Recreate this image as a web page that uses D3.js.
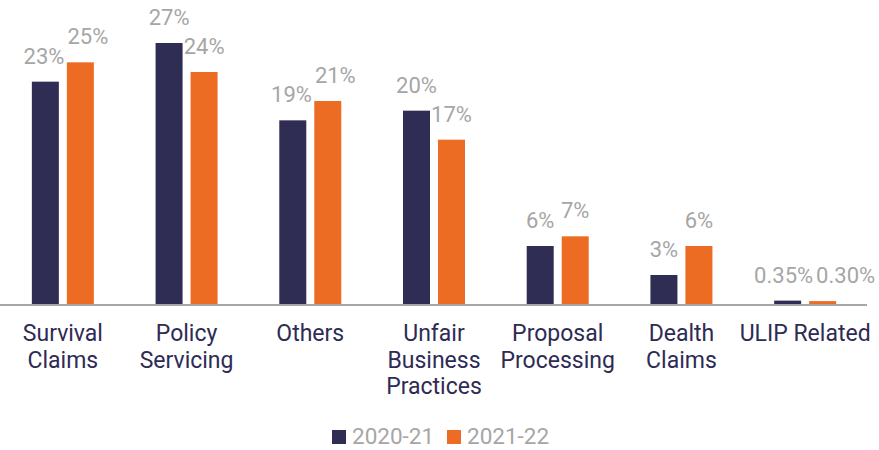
<!DOCTYPE html>
<html>
<head>
<meta charset="utf-8">
<script src="https://cdn.jsdelivr.net/npm/d3@7"></script>
<style>
  body { margin: 0; background: #fff; }
  svg { display: block; font-family: Roboto, sans-serif; }
</style>
</head>
<body>
<div id="chart"></div>
<script>
const WIDTH = 879;
const HEIGHT = 450;

const categories = [
  "Survival\nClaims",
  "Policy\nServicing",
  "Others",
  "Unfair\nBusiness\nPractices",
  "Proposal\nProcessing",
  "Dealth\nClaims",
  "ULIP Related"
];
const series = ["2020-21", "2021-22"];
const values2021 = [23, 27, 19, 20, 6, 3, 0.35];
const values2122 = [25, 24, 21, 17, 7, 6, 0.30];
const labels2021 = ["23%", "27%", "19%", "20%", "6%", "3%", "0.35%"];
const labels2122 = ["25%", "24%", "21%", "17%", "7%", "6%", "0.30%"];
const colors = ["#302d55", "#ec6c23"];

const BASE = 304;

const svg = d3.select("#chart").append("svg")
  .attr("width", WIDTH)
  .attr("height", HEIGHT);

const x = d3.scaleBand().domain(categories).range([1, 867]).padding(0);
const x1 = d3.scaleBand().domain(series).range([0, 62]).paddingInner(0.2286);
const y = d3.scaleLinear().domain([0, 27]).range([BASE, 43]);

const rows = categories.map((c, i) => ({
  cat: c,
  bars: [
    { s: series[0], v: values2021[i], label: labels2021[i] },
    { s: series[1], v: values2122[i], label: labels2122[i] }
  ]
}));

const groups = svg.selectAll("g.grp")
  .data(rows)
  .join("g")
  .attr("class", "grp")
  .attr("transform", d => `translate(${x(d.cat) + x.bandwidth() / 2 - 31},0)`);

groups.selectAll("rect")
  .data(d => d.bars)
  .join("rect")
  .attr("x", d => x1(d.s))
  .attr("width", x1.bandwidth())
  .attr("y", d => y(d.v))
  .attr("height", d => BASE - y(d.v))
  .attr("fill", (d, i) => colors[i]);

groups.selectAll("text.val")
  .data(d => d.bars)
  .join("text")
  .attr("class", "val")
  .attr("x", d => x1(d.s) + x1.bandwidth() / 2)
  .attr("y", d => y(d.v) - 18)
  .attr("text-anchor", "middle")
  .attr("font-size", 22)
  .attr("fill", "#a6a6a6")
  .text(d => d.label);

// push apart value labels that would collide (only the tiny ULIP pair does)
groups.each(function () {
  const t = d3.select(this).selectAll("text.val").nodes();
  const b0 = t[0].getBBox(), b1 = t[1].getBBox();
  const overlap = b0.x + b0.width + 3 - b1.x;
  if (overlap > 0 && Math.abs(b0.y - b1.y) < b0.height) {
    d3.select(t[0]).attr("dx", -overlap * 0.15);
    d3.select(t[1]).attr("dx", overlap * 0.85);
  }
});

// baseline
svg.append("line")
  .attr("x1", 0).attr("x2", 867)
  .attr("y1", BASE + 1).attr("y2", BASE + 1)
  .attr("stroke", "#a6a6a6")
  .attr("stroke-width", 2);

// category labels
const catText = svg.selectAll("text.cat")
  .data(categories)
  .join("text")
  .attr("class", "cat")
  .attr("text-anchor", "middle")
  .attr("font-size", 23)
  .attr("fill", "#2e2b55")
  .attr("transform", d => `translate(${x(d) + x.bandwidth() / 2},341)`);

catText.selectAll("tspan")
  .data(d => d.split("\n"))
  .join("tspan")
  .attr("x", 0)
  .attr("y", (d, i) => i * 26.5)
  .text(d => d);

// legend
const legend = svg.append("g").attr("transform", "translate(332,444)");
const legendX = [0, 115];
series.forEach((s, i) => {
  const g = legend.append("g").attr("transform", `translate(${legendX[i]},0)`);
  g.append("rect")
    .attr("x", 0).attr("y", -14)
    .attr("width", 14).attr("height", 14)
    .attr("fill", colors[i]);
  g.append("text")
    .attr("x", 20).attr("y", 0)
    .attr("font-size", 22.5)
    .attr("fill", "#a6a6a6")
    .text(s);
});
</script>
</body>
</html>
